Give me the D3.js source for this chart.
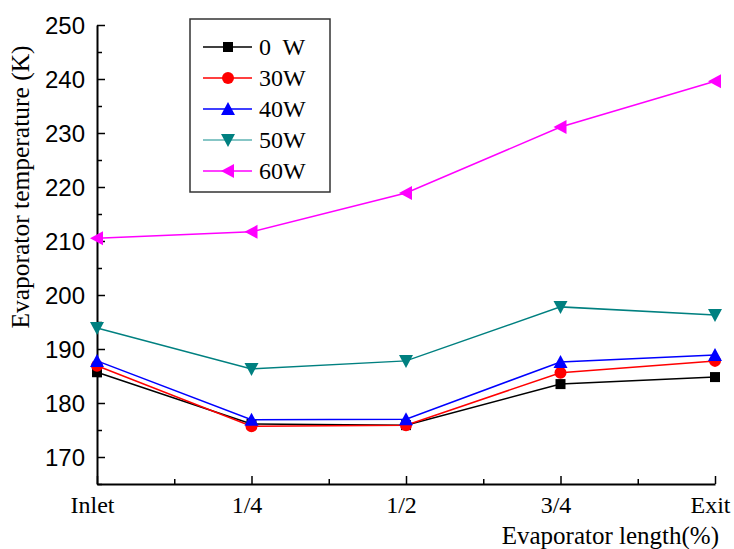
<!DOCTYPE html>
<html>
<head>
<meta charset="utf-8">
<script src="https://cdn.jsdelivr.net/npm/d3@7"></script>
<style>
  body { margin: 0; background: #fff; }
  svg { display: block; }
</style>
</head>
<body>
<svg id="chart" width="734" height="549"></svg>
<script>
// data
const positions = ["Inlet", "1/4", "1/2", "3/4", "Exit"];
const seriesNames = ["0  W", "30W", "40W", "50W", "60W"];
const seriesColors = ["#000000", "#ff0000", "#0000ff", "#008080", "#ff00ff"];
const seriesSymbols = ["square", "circle", "triangle", "triangleDown", "triangleLeft"];
const w0 = [185.7, 176.1, 175.9, 183.5, 184.8];
const w30 = [186.9, 175.7, 175.9, 185.6, 187.8];
const w40 = [187.8, 176.9, 177.0, 187.6, 188.9];
const w50 = [193.9, 186.3, 187.8, 197.8, 196.3];
const w60 = [210.5, 211.7, 218.9, 231.1, 239.6];
const yTicks = [170, 180, 190, 200, 210, 220, 230, 240, 250];

const allSeries = [w0, w30, w40, w50, w60];

const margin = {left: 97, right: 19, top: 25, bottom: 65};
const width = 734, height = 549;
const serif = "'Liberation Serif', 'Times New Roman', serif";

const svg = d3.select("#chart");

const x = d3.scaleLinear()
  .domain([0, positions.length - 1])
  .range([margin.left, width - margin.right]);

const y = d3.scaleLinear()
  .domain([165, 250])
  .range([height - margin.bottom, margin.top]);

// axes, ticks inward
const xAxis = d3.axisBottom(x)
  .tickValues(d3.range(0, 4.01, 0.5))
  .tickSize(0)
  .tickFormat("");
const gx = svg.append("g")
  .attr("transform", "translate(0," + y(165) + ")")
  .call(xAxis);
gx.select(".domain").attr("stroke-width", 2);
gx.selectAll(".tick line").remove();
gx.selectAll(".tick").append("line")
  .attr("y2", d => Number.isInteger(d) ? -8 : -5)
  .attr("stroke", "#000")
  .attr("stroke-width", 1.5);
gx.selectAll(".tick").filter(d => Number.isInteger(d)).append("text")
  .attr("x", -5)
  .attr("y", 29)
  .attr("fill", "#000")
  .attr("text-anchor", "middle")
  .style("font-family", serif)
  .style("font-size", "24px")
  .text(d => positions[d]);

const gy = svg.append("g")
  .attr("transform", "translate(" + x(0) + ",0)")
  .call(d3.axisLeft(y).tickValues(d3.range(165, 250.1, 5)).tickSize(0).tickFormat(""));
gy.select(".domain").attr("stroke-width", 2);
gy.selectAll(".tick").append("line")
  .attr("x2", d => d % 10 === 0 ? 8 : 5)
  .attr("stroke", "#000")
  .attr("stroke-width", 1.5);
gy.selectAll(".tick").filter(d => yTicks.includes(d)).append("text")
  .attr("x", -12)
  .attr("dy", "0.36em")
  .attr("fill", "#000")
  .attr("text-anchor", "end")
  .style("font-family", "'Liberation Sans', Arial, sans-serif")
  .style("font-size", "24px")
  .text(d => d);

// axis titles
svg.append("text")
  .attr("transform", "translate(29,187) rotate(-90)")
  .attr("text-anchor", "middle")
  .style("font-family", serif)
  .style("font-size", "25.5px")
  .text("Evaporator temperature (K)");

svg.append("text")
  .attr("x", 719)
  .attr("y", 544)
  .attr("text-anchor", "end")
  .style("font-family", serif)
  .style("font-size", "25px")
  .text("Evaporator length(%)");

// markers
function marker(g, type, color) {
  const s = 6;
  if (type === "square") {
    g.append("rect").attr("x", -s + 1).attr("y", -s + 1).attr("width", 2 * s - 2).attr("height", 2 * s - 2).attr("fill", color);
  } else if (type === "circle") {
    g.append("circle").attr("r", s).attr("fill", color);
  } else {
    let pts;
    if (type === "triangle") pts = [[0, -s - 1], [s + 1, s], [-s - 1, s]];
    else if (type === "triangleDown") pts = [[0, s + 1], [s + 1, -s], [-s - 1, -s]];
    else pts = [[-s - 1, 0], [s, -s - 1], [s, s + 1]];
    g.append("path").attr("d", "M" + pts.join("L") + "Z").attr("fill", color);
  }
}

const line = d3.line()
  .x((d, i) => x(i))
  .y(d => y(d));

allSeries.forEach((vals, k) => {
  svg.append("path")
    .datum(vals)
    .attr("fill", "none")
    .attr("stroke", seriesColors[k])
    .attr("stroke-width", 1.5)
    .attr("d", line);
  vals.forEach((v, i) => {
    const g = svg.append("g").attr("transform", "translate(" + x(i) + "," + y(v) + ")");
    marker(g, seriesSymbols[k], seriesColors[k]);
  });
});

// legend
const legend = svg.append("g");
legend.append("rect")
  .attr("x", 190).attr("y", 19)
  .attr("width", 140).attr("height", 173)
  .attr("fill", "#fff")
  .attr("stroke", "#333")
  .attr("stroke-width", 1.5);
seriesNames.forEach((name, k) => {
  const ly = 47 + k * 31;
  const g = legend.append("g").attr("transform", "translate(0," + ly + ")");
  g.append("line")
    .attr("x1", 203).attr("x2", 252)
    .attr("stroke", k === 3 ? "#5fb3b3" : seriesColors[k])
    .attr("stroke-width", 1.5);
  const m = g.append("g").attr("transform", "translate(228,0)");
  marker(m, seriesSymbols[k], seriesColors[k]);
  g.append("text")
    .attr("x", 259)
    .attr("dy", "0.35em")
    .style("font-family", serif)
    .style("font-size", "24px")
    .style("white-space", "pre")
    .attr("xml:space", "preserve")
    .text(name);
});
</script>
</body>
</html>
